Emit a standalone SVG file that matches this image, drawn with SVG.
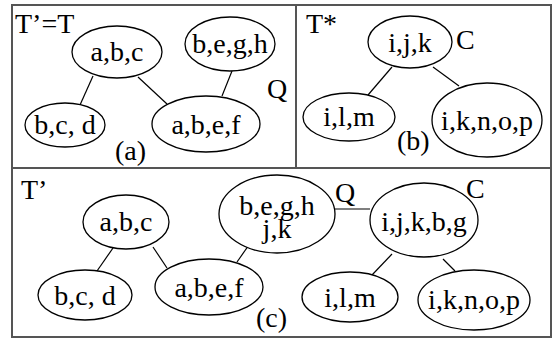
<svg xmlns="http://www.w3.org/2000/svg" width="557" height="340" viewBox="0 0 557 340" font-family="'Liberation Serif', 'DejaVu Serif', serif">
<style>
text{font-family:"Liberation Serif","DejaVu Serif",serif;font-size:28px;fill:#000}
.n ellipse{fill:#fff;stroke:#000;stroke-width:1.3}
.c line{stroke:#000;stroke-width:1.2}
.b{fill:none;stroke:#555;stroke-width:2}
.m{text-anchor:middle}
</style>
<rect width="557" height="340" fill="#fff"/>
<g id="frame">
<rect class="b" x="12" y="5" width="539" height="332"/>
<line class="b" x1="12" y1="168" x2="551" y2="168"/>
<line class="b" x1="296" y1="5" x2="296" y2="168"/>
</g>
<g class="c" id="connectors">
<line x1="93" y1="76" x2="80" y2="105"/>
<line x1="138" y1="77" x2="167" y2="104"/>
<line x1="232" y1="71" x2="222" y2="96"/>
<line x1="392" y1="67" x2="368" y2="95"/>
<line x1="433" y1="67" x2="459" y2="86"/>
<line x1="113" y1="248" x2="97" y2="271"/>
<line x1="153" y1="247" x2="167" y2="268"/>
<line x1="251" y1="242" x2="237" y2="262"/>
<line x1="335" y1="209" x2="370" y2="209"/>
<line x1="392" y1="254" x2="372" y2="275"/>
<line x1="443" y1="259" x2="455" y2="271"/>
</g>
<g id="labels">
<text x="15" y="33">T’=T</text>
<text x="267" y="98">Q</text>
<text x="115" y="160">(a)</text>
<text x="306" y="33">T*</text>
<text x="456" y="49">C</text>
<text x="397" y="150">(b)</text>
<text x="21" y="199">T’</text>
<text x="335" y="202">Q</text>
<text x="466" y="198">C</text>
<text x="256" y="327">(c)</text>
</g>
<g class="n" id="a-abc"><ellipse cx="117" cy="52" rx="45" ry="26"/><text class="m" x="117" y="61">a,b,c</text></g>
<g class="n" id="a-begh"><ellipse cx="230" cy="44" rx="45" ry="27"/><text class="m" x="230" y="53">b,e,g,h</text></g>
<g class="n" id="a-bcd"><ellipse cx="65" cy="125" rx="40" ry="22"/><text class="m" x="65" y="134">b,c, d</text></g>
<g class="n" id="a-abef"><ellipse cx="206" cy="124" rx="54" ry="28"/><text class="m" x="206" y="134">a,b,e,f</text></g>
<g class="n" id="b-ijk"><ellipse cx="410" cy="42" rx="42" ry="26"/><text class="m" x="410" y="52">i,j,k</text></g>
<g class="n" id="b-ilm"><ellipse cx="349" cy="117" rx="46" ry="24"/><text class="m" x="349" y="126">i,l,m</text></g>
<g class="n" id="b-iknop"><ellipse cx="487" cy="120" rx="55" ry="37"/><text class="m" x="487" y="130">i,k,n,o,p</text></g>
<g class="n" id="c-abc"><ellipse cx="126" cy="222" rx="43" ry="27"/><text class="m" x="126" y="231">a,b,c</text></g>
<g class="n" id="c-bcd"><ellipse cx="85" cy="295" rx="47" ry="25"/><text class="m" x="85" y="305">b,c, d</text></g>
<g class="n" id="c-abef"><ellipse cx="209" cy="287" rx="54" ry="28"/><text class="m" x="209" y="297">a,b,e,f</text></g>
<g class="n" id="c-beghjk"><ellipse cx="277" cy="214" rx="58" ry="39"/><text class="m" x="277" y="215">b,e,g,h<tspan x="277" y="238">j,k</tspan></text></g>
<g class="n" id="c-ijkbg"><ellipse cx="424" cy="220" rx="54" ry="37"/><text class="m" x="424" y="231">i,j,k,b,g</text></g>
<g class="n" id="c-ilm"><ellipse cx="350" cy="297" rx="48" ry="25"/><text class="m" x="350" y="307">i,l,m</text></g>
<g class="n" id="c-iknop"><ellipse cx="474" cy="300" rx="56" ry="30"/><text class="m" x="474" y="309">i,k,n,o,p</text></g>
</svg>
